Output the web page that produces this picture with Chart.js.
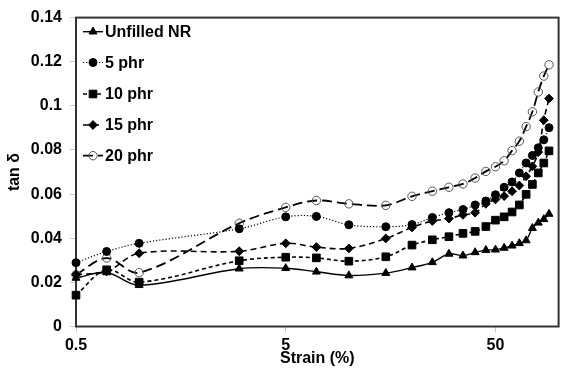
<!DOCTYPE html>
<html>
<head>
<meta charset="utf-8">
<script src="https://cdn.jsdelivr.net/npm/chart.js@4.4.1/dist/chart.umd.min.js"></script>
<style>
  html, body { margin: 0; padding: 0; background: #fff; }
  #wrap { width: 565px; height: 377px; }
</style>
</head>
<body>
<div id="wrap"><canvas id="c" width="565" height="377"></canvas></div>
<script>
// ---- data ----
const strain = [0.5, 0.7, 1, 3, 5, 7, 10, 15, 20, 25, 30, 35, 40, 45, 50, 55, 60, 65, 70, 75, 80, 85, 90];
const unfilledNR = [0.022, 0.0245, 0.0187, 0.0262, 0.0264, 0.0248, 0.0231, 0.0242, 0.0267, 0.0291, 0.0329, 0.0321, 0.0336, 0.0346, 0.0348, 0.0356, 0.0366, 0.0377, 0.039, 0.0446, 0.047, 0.0486, 0.051];
const phr5 = [0.0289, 0.034, 0.0377, 0.0443, 0.0497, 0.0499, 0.0461, 0.0452, 0.0462, 0.0494, 0.0516, 0.053, 0.0551, 0.0569, 0.0597, 0.0631, 0.0655, 0.0696, 0.0741, 0.0775, 0.081, 0.0846, 0.0901];
const phr10 = [0.0142, 0.0257, 0.0201, 0.0298, 0.0314, 0.0311, 0.0296, 0.0316, 0.0369, 0.0393, 0.0407, 0.0422, 0.0431, 0.0453, 0.0482, 0.0497, 0.0519, 0.0551, 0.0599, 0.0644, 0.0696, 0.0741, 0.0796];
const phr15 = [0.0235, 0.025, 0.0332, 0.0341, 0.0377, 0.036, 0.0354, 0.0399, 0.0449, 0.0478, 0.0489, 0.0506, 0.0516, 0.0556, 0.0576, 0.0591, 0.0613, 0.0639, 0.0681, 0.0726, 0.079, 0.0935, 0.1033];
const phr20 = [0.0235, 0.031, 0.0244, 0.0468, 0.054, 0.0571, 0.0556, 0.0549, 0.059, 0.0613, 0.0631, 0.0646, 0.0673, 0.0703, 0.0724, 0.0751, 0.0797, 0.084, 0.0906, 0.0973, 0.1063, 0.1135, 0.1186];
const seriesNames = ['Unfilled NR', '5 phr', '10 phr', '15 phr', '20 phr'];
const xTicks = [0.5, 5, 50];
const yTicks = [0, 0.02, 0.04, 0.06, 0.08, 0.1, 0.12, 0.14];
const xTitle = 'Strain (%)';
const yTitle = 'tan δ';

// ---- styling ----
const FONT = { family: '"Liberation Sans", Arial, sans-serif', size: 16, weight: 'bold' };
const styles = [
  { pointStyle: 'triangle', radius: 4.6, dash: [], width: 1.4, bg: '#000', border: '#000', pbw: 1 },
  { pointStyle: 'circle', radius: 4, dash: [1.2, 2], width: 1.2, bg: '#000', border: '#000', pbw: 1 },
  { pointStyle: 'rect', radius: 5.4, dash: [4, 3], width: 1.6, bg: '#000', border: '#000', pbw: 1 },
  { pointStyle: 'rectRot', radius: 4.4, dash: [6, 4], width: 1.6, bg: '#000', border: '#000', pbw: 1 },
  { pointStyle: 'circle', radius: 4.2, dash: [10, 5], width: 1.8, bg: 'rgba(255,255,255,0)', border: '#555', pbw: 1 }
];
const values = [unfilledNR, phr5, phr10, phr15, phr20];

const datasets = values.map((vals, i) => ({
  label: seriesNames[i],
  data: strain.map((s, j) => ({ x: s, y: vals[j] })),
  borderColor: '#000',
  borderWidth: styles[i].width,
  borderDash: styles[i].dash,
  backgroundColor: styles[i].bg,
  pointStyle: styles[i].pointStyle,
  pointRadius: styles[i].radius,
  pointBackgroundColor: styles[i].bg,
  pointBorderColor: styles[i].border,
  pointBorderWidth: styles[i].pbw,
  tension: 0.35,
  clip: false,
  fill: false
}));

const framePlugin = {
  id: 'frame',
  beforeDatasetsDraw(chart) {
    const { ctx, chartArea: a } = chart;
    ctx.save();
    ctx.strokeStyle = '#333';
    ctx.lineWidth = 2;
    ctx.strokeRect(a.left, a.top, a.right - a.left, a.bottom - a.top);
    ctx.restore();
  },
  afterDatasetsDraw(chart) {
    const ctx = chart.ctx;
    const x0 = 83, x1 = 103, xm = 93, xt = 105;
    const rows = [31.7, 62.5, 94, 125, 155.7];
    ctx.save();
    chart.data.datasets.forEach((ds, i) => {
      const y = rows[i];
      ctx.save();
      ctx.strokeStyle = '#000';
      ctx.lineWidth = ds.borderWidth;
      ctx.setLineDash(ds.borderDash);
      ctx.beginPath();
      ctx.moveTo(x0, y);
      ctx.lineTo(x1, y);
      ctx.stroke();
      ctx.restore();
      ctx.save();
      ctx.fillStyle = ds.pointBackgroundColor;
      ctx.strokeStyle = ds.pointBorderColor;
      ctx.lineWidth = ds.pointBorderWidth;
      Chart.helpers.drawPoint(ctx, { pointStyle: ds.pointStyle, radius: ds.pointRadius, rotation: 0, borderWidth: ds.pointBorderWidth }, xm, y);
      ctx.restore();
      ctx.fillStyle = '#000';
      ctx.font = 'bold 16px "Liberation Sans", Arial, sans-serif';
      ctx.textBaseline = 'middle';
      ctx.textAlign = 'left';
      ctx.fillText(ds.label, xt, y + 1);
    });
    ctx.restore();
  }
};

new Chart(document.getElementById('c'), {
  type: 'line',
  data: { datasets },
  plugins: [framePlugin],
  options: {
    responsive: false,
    animation: false,
    layout: { padding: { left: 0, right: 3, top: 15, bottom: 0 } },
    plugins: { legend: { display: false }, tooltip: { enabled: false } },
    scales: {
      x: {
        type: 'logarithmic',
        min: 0.5,
        max: 100,
        afterBuildTicks: s => { s.ticks = xTicks.map(v => ({ value: v })); },
        afterFit: s => { s.height = 50.5; },
        ticks: {
          callback: v => String(v),
          font: FONT, color: '#000', padding: 3, maxRotation: 0, autoSkip: false
        },
        grid: { display: true, drawOnChartArea: false, drawTicks: true, tickLength: 6, color: '#c8c8c8' },
        border: { display: false },
        title: { display: true, text: xTitle, font: FONT, color: '#000', padding: { top: 0, bottom: 9 } }
      },
      y: {
        type: 'linear',
        min: 0,
        max: 0.14,
        afterBuildTicks: s => { s.ticks = yTicks.map(v => ({ value: v })); },
        afterFit: s => { s.width = 76; },
        ticks: {
          callback: v => String(Number(v.toFixed(2))),
          font: FONT, color: '#000', padding: 8
        },
        grid: { display: true, drawOnChartArea: false, drawTicks: true, tickLength: 6, color: '#c8c8c8' },
        border: { display: false },
        title: { display: true, text: yTitle, font: FONT, color: '#000', padding: { top: 5, bottom: 0 } }
      }
    }
  }
});
</script>
</body>
</html>
